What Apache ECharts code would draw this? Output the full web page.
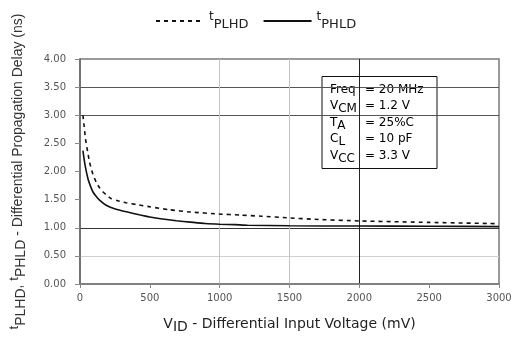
<!DOCTYPE html>
<html>
<head>
<meta charset="utf-8">
<script src="https://cdn.jsdelivr.net/npm/echarts@6/dist/echarts.min.js"></script>
<style>
  html, body { margin: 0; padding: 0; background: #fff; }
  #chart { width: 516px; height: 339px; }
</style>
</head>
<body>
<div id="chart"></div>
<script>
// Propagation delay vs differential input voltage
const vidPLHD = [21, 30, 40, 55, 69, 90, 116, 140, 163, 190, 222, 270, 329, 410, 495, 640, 791, 993, 1150, 1300, 1500, 1680, 2011, 2500, 2935, 3000];
const tPLHD   = [3.00, 2.80, 2.57, 2.35, 2.16, 1.97, 1.81, 1.71, 1.64, 1.58, 1.52, 1.48, 1.445, 1.41, 1.375, 1.32, 1.28, 1.245, 1.225, 1.205, 1.175, 1.15, 1.12, 1.095, 1.075, 1.07];

const vidPHLD = [21, 35, 57, 75, 92, 115, 140, 187, 258, 340, 424, 500, 590, 690, 791, 896, 1000, 1109, 1200, 1500, 2000, 2500, 3000];
const tPHLD   = [2.37, 2.13, 1.87, 1.74, 1.64, 1.56, 1.49, 1.40, 1.33, 1.28, 1.23, 1.19, 1.155, 1.125, 1.10, 1.075, 1.062, 1.055, 1.045, 1.035, 1.03, 1.028, 1.02];

const seriesNames = ['PLHD', 'PHLD'];

// Test conditions shown in the boxed note
const condLabels = ['Freq', 'V{s|CM}', 'T{s|A}', 'C{s|L}', 'V{s|CC}'];
const condValues = ['= 20 MHz', '= 1.2 V', '= 25%C', '= 10 pF', '= 3.3 V'];

const xMax = 3000, xStep = 500;
const yMax = 4, yStep = 0.5;

const zip = (xs, ys) => xs.map((x, i) => [x, ys[i]]);

const chart = echarts.init(document.getElementById('chart'), null, { renderer: 'canvas' });

const subRich = {
  n: { fontFamily: 'DejaVu Sans', fontSize: 12, color: '#222', verticalAlign: 'middle', lineHeight: 18 },
  t: { fontFamily: 'DejaVu Sans', fontSize: 12, color: '#222', verticalAlign: 'top', lineHeight: 18 },
  s: { fontFamily: 'DejaVu Sans', fontSize: 12, color: '#222', verticalAlign: 'bottom', lineHeight: 12 }
};

const grid = { left: 77, right: 17, top: 59, bottom: 52 };

const option = {
  backgroundColor: '#fff',
  animation: false,
  grid: Object.assign({ show: true, borderColor: '#7a7a7a', borderWidth: 1.5, containLabel: false }, grid),
  legend: {
    left: 150, top: 6,
    itemWidth: 48, itemHeight: 10, itemGap: 14,
    data: seriesNames,
    itemStyle: { color: 'rgba(0,0,0,0)', borderWidth: 0 },
    formatter: name => '{t|t}{s|' + name + '}',
    textStyle: {
      rich: {
        t: { fontFamily: 'DejaVu Sans', fontSize: 12, color: '#222', verticalAlign: 'top', lineHeight: 20 },
        s: { fontFamily: 'DejaVu Sans', fontSize: 13, color: '#222', verticalAlign: 'bottom', lineHeight: 13 }
      }
    }
  },
  xAxis: {
    type: 'value', min: 0, max: xMax, interval: xStep,
    name: '{n|V}{s|ID}{n| - Differential Input Voltage (mV)}',
    nameLocation: 'middle', nameGap: 30,
    nameTextStyle: {
      rich: {
        n: { fontFamily: 'DejaVu Sans', fontSize: 14, color: '#222', verticalAlign: 'middle', lineHeight: 20 },
        s: { fontFamily: 'DejaVu Sans', fontSize: 14, color: '#222', verticalAlign: 'bottom', lineHeight: 14 }
      }
    },
    axisLine: { show: true, lineStyle: { color: '#7a7a7a', width: 1.5 } },
    axisTick: { show: true, length: 4, lineStyle: { color: '#888' } },
    axisLabel: { fontFamily: 'DejaVu Sans', fontSize: 10, color: '#555', margin: 9, formatter: v => String(v) },
    splitLine: {
      show: true,
      lineStyle: { color: ['rgba(0,0,0,0)', 'rgba(0,0,0,0)', '#c4c4c4', '#c4c4c4', '#222', 'rgba(0,0,0,0)', 'rgba(0,0,0,0)'], width: 1 }
    }
  },
  yAxis: {
    type: 'value', min: 0, max: yMax, interval: yStep,
    name: '{t|t}{s|PLHD}{n|, }{t|t}{s|PHLD}{n| - Differential Propagation Delay (ns)}',
    nameLocation: 'middle', nameRotate: 90, nameGap: 52,
    nameTextStyle: {
      rich: {
        n: { fontFamily: 'Liberation Sans', fontSize: 14, color: '#333', verticalAlign: 'middle', lineHeight: 20 },
        t: { fontFamily: 'Liberation Sans', fontSize: 13, color: '#333', verticalAlign: 'top', lineHeight: 20 },
        s: { fontFamily: 'Liberation Sans', fontSize: 14, color: '#333', verticalAlign: 'bottom', lineHeight: 14 }
      }
    },
    axisLine: { show: true, lineStyle: { color: '#666', width: 1.5 } },
    axisTick: { show: true, length: 5, lineStyle: { color: '#888' } },
    axisLabel: { fontFamily: 'DejaVu Sans', fontSize: 10, color: '#555', margin: 14, formatter: v => v.toFixed(2) },
    splitLine: {
      show: true,
      lineStyle: { color: ['rgba(0,0,0,0)', '#d0d0d0', '#333', 'rgba(0,0,0,0)', 'rgba(0,0,0,0)', 'rgba(0,0,0,0)', '#555', '#555', 'rgba(0,0,0,0)'], width: 1 }
    }
  },
  series: [
    {
      name: seriesNames[0], type: 'line', data: zip(vidPLHD, tPLHD),
      smooth: 0.2, symbol: 'none', z: 3,
      lineStyle: { color: '#111', width: 1.6, type: [4, 4] },
      itemStyle: { color: '#111' }
    },
    {
      name: seriesNames[1], type: 'line', data: zip(vidPHLD, tPHLD),
      smooth: 0.2, symbol: 'none', z: 3,
      lineStyle: { color: '#111', width: 1.6, type: 'solid' },
      itemStyle: { color: '#111' }
    }
  ],
  graphic: [{
    type: 'group', left: 307, top: 76, z: 10,
    children: [
      { type: 'rect', shape: { x: 0, y: 0, width: 140, height: 92 }, style: { fill: '#fff' } },
      { type: 'rect', shape: { x: 15, y: 0, width: 115, height: 92 }, style: { fill: '#fff', stroke: '#111', lineWidth: 1 } }
    ].concat(condLabels.map((lab, i) => ({
      type: 'text', x: 23, y: 4 + i * 16.5,
      style: { text: '{n|' + lab.replace(/\{s\|(\w+)\}/g, '}{s|$1}{n|') + '}', rich: subRich }
    }))).concat(condValues.map((val, i) => ({
      type: 'text', x: 58, y: 4 + i * 16.5,
      style: { text: '{n|' + val + '}', rich: subRich }
    })))
  }]
};

chart.setOption(option);
</script>
</body>
</html>
